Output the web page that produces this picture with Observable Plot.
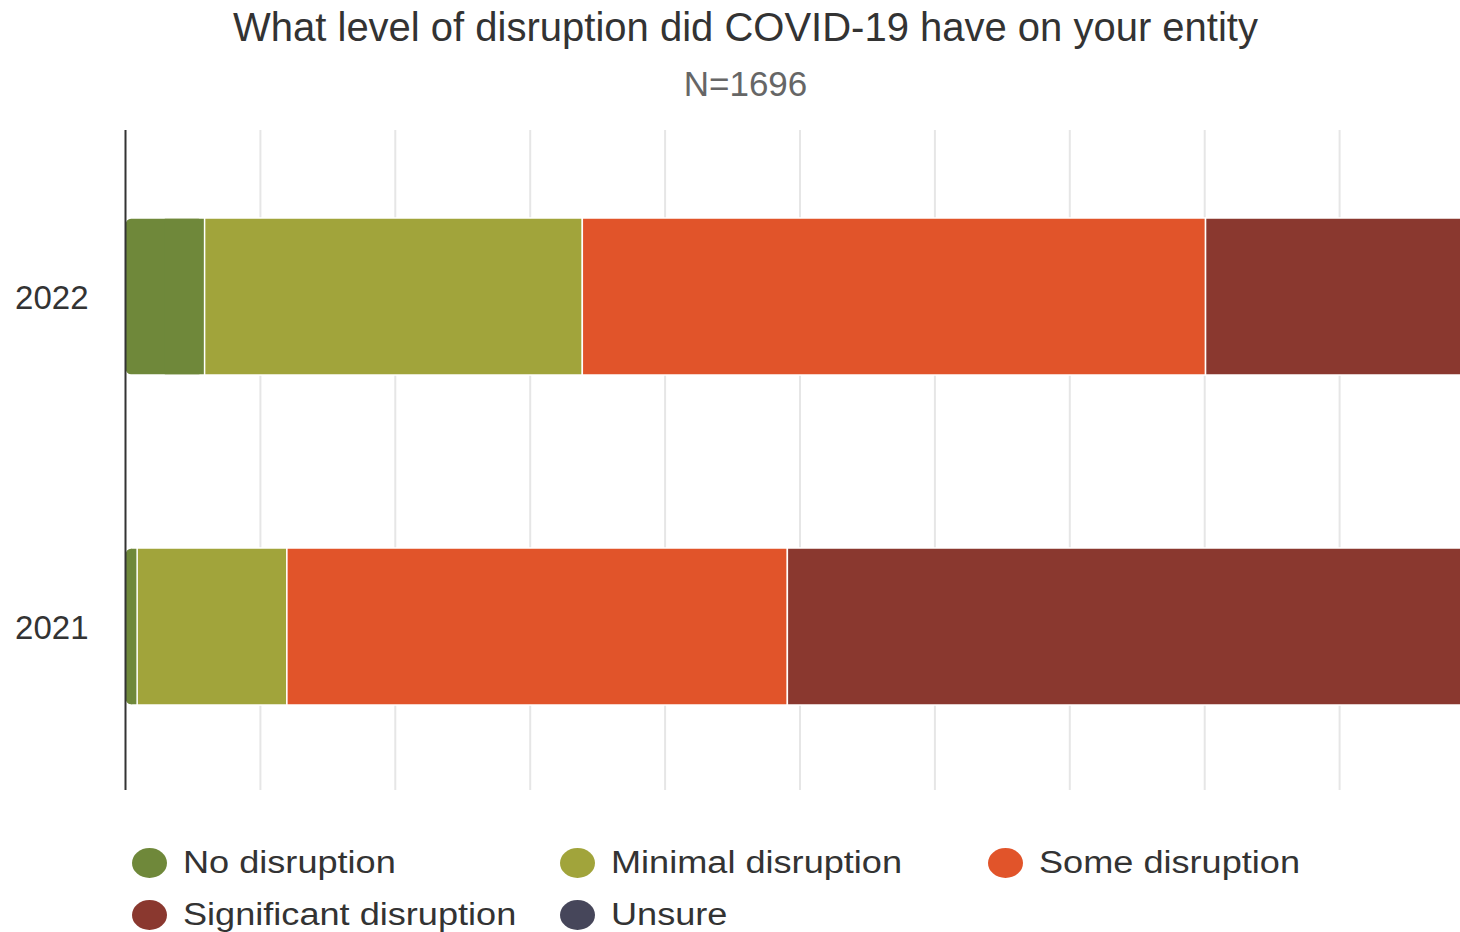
<!DOCTYPE html>
<html>
<head>
<meta charset="utf-8">
<script src="https://cdn.jsdelivr.net/npm/d3@7"></script>
<script src="https://cdn.jsdelivr.net/npm/@observablehq/plot@0.6"></script>
<style>
  html, body { margin: 0; padding: 0; background: #fff; overflow: hidden; }
  body { font-family: "Liberation Sans", Arial, sans-serif; }
  #wrap { width: 1491px; position: relative; }
  #title { height: 54px; line-height: 54px; text-align: center; font-size: 40px; color: #333; white-space: nowrap; }
  #subtitle { height: 60px; line-height: 60px; text-align: center; font-size: 35px; color: #666; }
  #legend { padding-top: 37px; }
  .row { height: 52px; position: relative; }
  .item { position: absolute; top: 0; height: 52px; display: flex; align-items: center; }
  .dot { width: 35px; height: 30px; border-radius: 50%; display: inline-block; margin-right: 16px; }
  .lab { font-size: 31px; color: #333; display: inline-block; transform: scaleX(1.165); transform-origin: left center; white-space: nowrap; }
</style>
</head>
<body>
<div id="wrap">
  <div id="title">What level of disruption did COVID-19 have on your entity</div>
  <div id="subtitle">N=1696</div>
  <div id="chart"></div>
  <div id="legend"></div>
</div>
<script>
const categories = ["No disruption", "Minimal disruption", "Some disruption", "Significant disruption", "Unsure"];
const colors = ["#6f883a", "#a1a43b", "#e1542a", "#8a382f", "#46465a"];
const years = ["2022", "2021"];
const values2022 = [5.9, 28.0, 46.2, 19.9, 0];
const values2021 = [0.9, 11.1, 37.1, 50.9, 0];
const gridTicks = [10, 20, 30, 40, 50, 60, 70, 80, 90];

const seriesByYear = {"2022": values2022, "2021": values2021};
const rows = [];
for (const yr of years) {
  let acc = 0;
  seriesByYear[yr].forEach((v, i) => {
    rows.push({year: yr, category: categories[i], idx: i, x1: acc, x2: acc + v, mid: acc + v / 2});
    acc += v;
  });
}
const first = rows.filter(d => d.idx === 0);
const rest = rows.filter(d => d.idx > 0 && d.x2 > d.x1);

const iTop = 88, iBot = 85;
const chart = Plot.plot({
  width: 1491,
  height: 686,
  marginTop: 16,
  marginBottom: 10,
  marginLeft: 125,
  marginRight: 17,
  style: {fontFamily: "'Liberation Sans', Arial, sans-serif", background: "#fff", overflow: "visible"},
  x: {domain: [0, 100], axis: null},
  y: {domain: years, padding: 0, label: null},
  color: {domain: categories, range: colors},
  marks: [
    Plot.ruleX(gridTicks, {stroke: "#e6e6e6", strokeWidth: 2}),
    Plot.barX(first, {x1: "x1", x2: "x2", y: "year", fill: "category", stroke: "#fff", strokeWidth: 1.5, rx: 6, insetTop: iTop, insetBottom: iBot}),
    Plot.barX(first, {x1: "mid", x2: "x2", y: "year", fill: "category", insetTop: iTop + 0.75, insetBottom: iBot + 0.75}),
    Plot.barX(rest, {x1: "x1", x2: "x2", y: "year", fill: "category", stroke: "#fff", strokeWidth: 1.5, insetTop: iTop, insetBottom: iBot}),
    Plot.ruleX([0], {stroke: "#333", strokeWidth: 2}),
    Plot.axisY({tickSize: 0, tickPadding: 37, fontSize: 33, dy: 3, color: "#333", label: null})
  ]
});
document.getElementById("chart").appendChild(chart);

const legend = document.getElementById("legend");
const colX = [132, 560, 988];
const perRow = 3;
for (let r = 0; r * perRow < categories.length; r++) {
  const row = document.createElement("div");
  row.className = "row";
  for (let c = 0; c < perRow; c++) {
    const i = r * perRow + c;
    if (i >= categories.length) break;
    const item = document.createElement("div");
    item.className = "item";
    item.style.left = colX[c] + "px";
    const dot = document.createElement("span");
    dot.className = "dot";
    dot.style.background = colors[i];
    const lab = document.createElement("span");
    lab.className = "lab";
    lab.textContent = categories[i];
    item.appendChild(dot);
    item.appendChild(lab);
    row.appendChild(item);
  }
  legend.appendChild(row);
}
</script>
</body>
</html>
